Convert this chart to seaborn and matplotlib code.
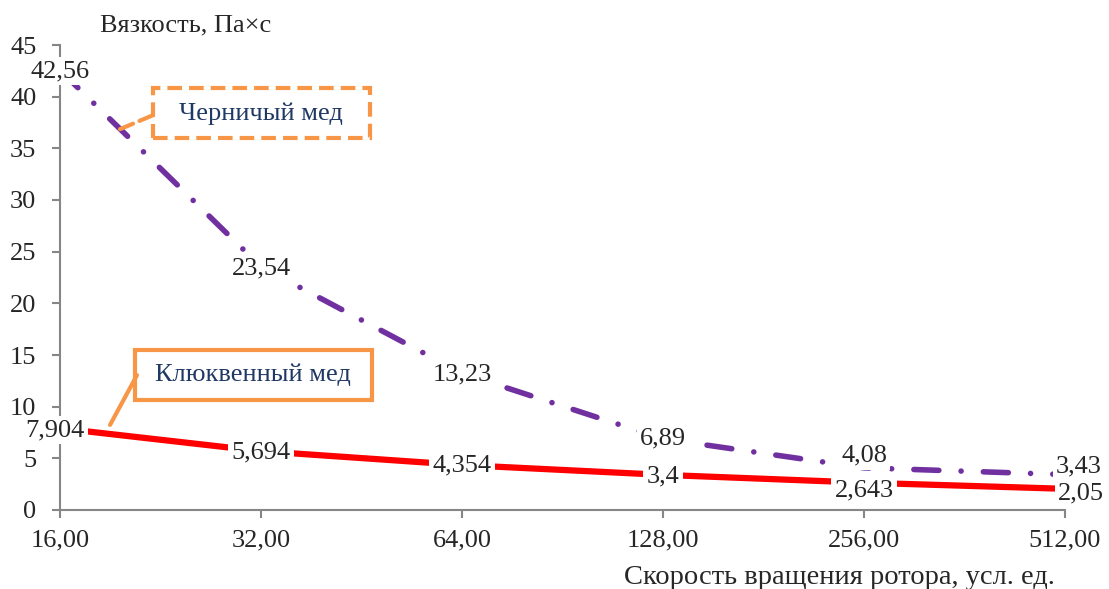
import pandas as pd
import seaborn as sns
import matplotlib.pyplot as plt
from matplotlib.patches import Rectangle
from matplotlib.ticker import FixedLocator, FuncFormatter

# скорость вращения ротора и вязкость двух сортов меда
speed = [16, 32, 64, 128, 256, 512]
blueberry = [42.56, 23.54, 13.23, 6.89, 4.08, 3.43]
cranberry = [7.904, 5.694, 4.354, 3.4, 2.643, 2.05]
blueberry_labels = ["42,56", "23,54", "13,23", "6,89", "4,08", "3,43"]
cranberry_labels = ["7,904", "5,694", "4,354", "3,4", "2,643", "2,05"]
y_ticks = [0, 5, 10, 15, 20, 25, 30, 35, 40, 45]

# смещение подписей (в пикселях) относительно точек
blue_off = [(0, -1), (0, -2), (0, -1), (0, 0), (0, 12), (14, 8)]
red_off = [(-5, -2), (0, -1), (0, 0), (0, -2), (0, -8), (16, -5)]

FS = 19
ORANGE = "#F79646"

sns.set_style("white")
plt.rcParams["font.family"] = ["Liberation Serif", "DejaVu Serif"]

df = pd.DataFrame({"speed": speed, "blue": blueberry, "red": cranberry})

fig = plt.figure(figsize=(11.09, 5.89), dpi=100)
ax = fig.add_axes([60 / 1109, 79 / 589, 1005 / 1109, 465 / 589])

sns.lineplot(data=df, x="speed", y="red", ax=ax, color="#FF0000",
             linewidth=4.5, solid_capstyle="round", zorder=3)
sns.lineplot(data=df, x="speed", y="blue", ax=ax, color="#7030A0",
             linewidth=4.0, zorder=3)
ax.lines[1].set_dashes([4.5, 4.0, 0.01, 4.0])
ax.lines[1].set_dash_capstyle("round")

ax.set_xscale("log", base=2)
ax.set_xlim(16, 512)
ax.set_ylim(0, 45)
ax.xaxis.set_major_locator(FixedLocator(speed))
ax.xaxis.set_minor_locator(FixedLocator([]))
ax.xaxis.set_major_formatter(FuncFormatter(lambda v, p: f"{v:.2f}".replace(".", ",")))
ax.set_yticks(y_ticks)
ax.set_xlabel("")
ax.set_ylabel("")

for s in ["top", "right"]:
    ax.spines[s].set_visible(False)
for s in ["left", "bottom"]:
    ax.spines[s].set_color("#868686")
    ax.spines[s].set_linewidth(1.5)
ax.tick_params(axis="y", direction="out", length=6, width=1.5, color="#868686",
               pad=11, labelsize=FS, left=True)
ax.tick_params(axis="x", direction="out", length=6, width=1.5, color="#868686",
               pad=8, labelsize=FS, bottom=True)

white = dict(boxstyle="square,pad=0.12", fc="white", ec="none")
for x, y, t, o in zip(speed, cranberry, cranberry_labels, red_off):
    ax.annotate(t, (x, y), xytext=o, textcoords="offset pixels", ha="center",
                va="center", fontsize=FS, bbox=white, zorder=5,
                annotation_clip=False)
for x, y, t, o in zip(speed, blueberry, blueberry_labels, blue_off):
    ax.annotate(t, (x, y), xytext=o, textcoords="offset pixels", ha="center",
                va="center", fontsize=FS, bbox=white, zorder=5.5,
                annotation_clip=False)

# выноски с названиями
dashed = (0, (3.5, 1.7))
ax.add_patch(Rectangle((0.0925, 0.800), 0.216, 0.1075, transform=ax.transAxes,
                       fc="white", ec=ORANGE, lw=3, ls=dashed, zorder=6,
                       clip_on=False))
ax.text(0.200, 0.852, "Черничый мед", transform=ax.transAxes, ha="center",
        va="center", fontsize=FS, color="#1F3864", zorder=7)
ax.annotate("", xy=(0.0597, 0.819), xycoords="axes fraction",
            xytext=(0.0925, 0.849), textcoords="axes fraction",
            arrowprops=dict(arrowstyle="-", color=ORANGE, lw=3, ls=dashed,
                            shrinkA=0, shrinkB=0), zorder=6)

ax.add_patch(Rectangle((0.0746, 0.2366), 0.2358, 0.1074, transform=ax.transAxes,
                       fc="white", ec=ORANGE, lw=3, zorder=6, clip_on=False))
ax.text(0.192, 0.290, "Клюквенный мед", transform=ax.transAxes, ha="center",
        va="center", fontsize=FS, color="#1F3864", zorder=7)
ax.annotate("", xy=(0.0498, 0.183), xycoords="axes fraction",
            xytext=(0.0766, 0.290), textcoords="axes fraction",
            arrowprops=dict(arrowstyle="-", color=ORANGE, lw=3,
                            shrinkA=0, shrinkB=0), zorder=6)

fig.text(100 / 1109, 1 - 25 / 589, "Вязкость, Па×с", fontsize=FS,
         ha="left", va="center")
fig.text(1055 / 1109, 1 - 577 / 589, "Скорость вращения ротора, усл. ед.",
         fontsize=20.5, ha="right", va="center")

fig.savefig("out.png", dpi=100)
